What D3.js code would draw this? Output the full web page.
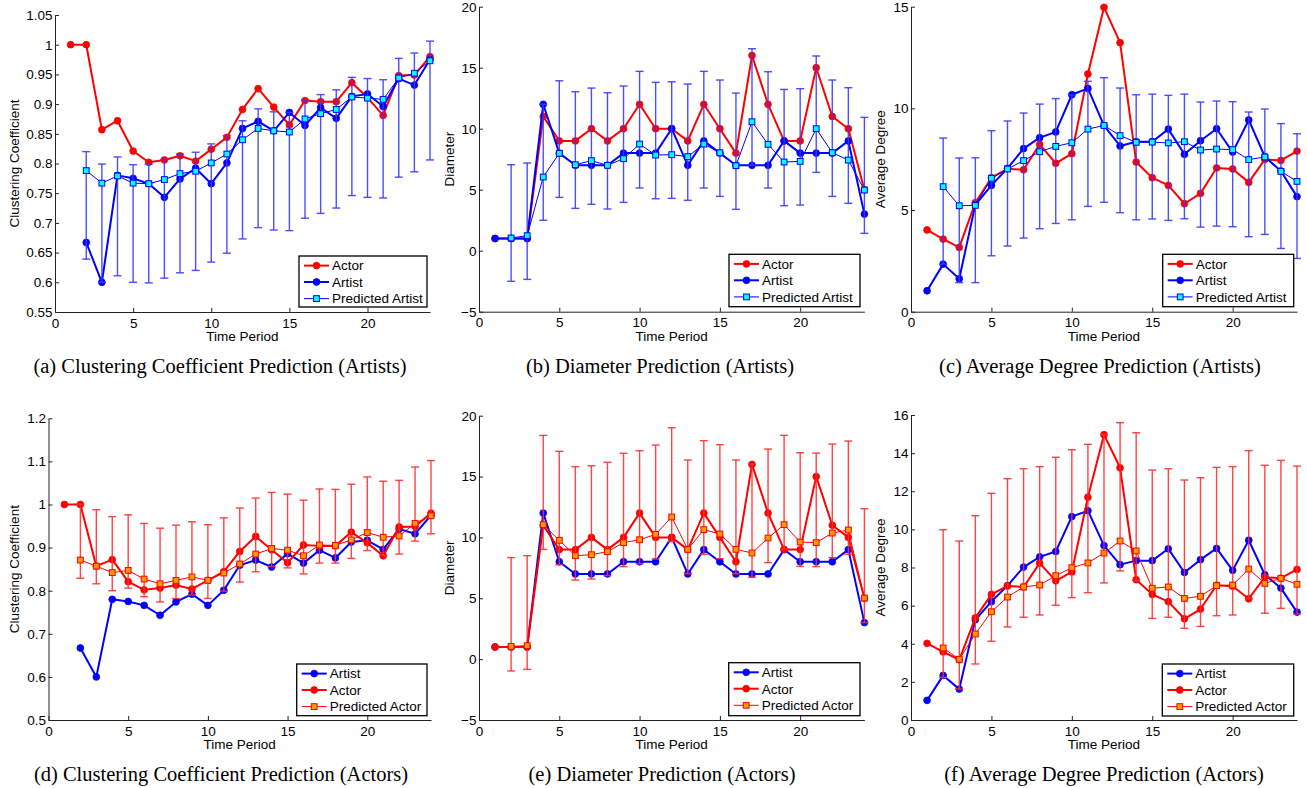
<!DOCTYPE html>
<html>
<head>
<meta charset="utf-8">
<script src="https://cdn.jsdelivr.net/npm/d3@7"></script>
<style>
  html, body { margin: 0; padding: 0; background: #fff; }
  svg { display: block; }
  .axis text { font-family: "Liberation Sans", Arial, Helvetica, sans-serif; font-size: 13.5px; fill: #000; }
  .axis path, .axis line { stroke: #222; stroke-width: 1; }
</style>
</head>
<body>
<svg id="chart" width="1307" height="788"></svg>
<script>
// ---------------- DATA ----------------
const periods = [1,2,3,4,5,6,7,8,9,10,11,12,13,14,15,16,17,18,19,20,21,22,23,24];
const xTicks = [0,5,10,15,20];
const xTickLabels = ["0","5","10","15","20"];

// Clustering coefficient
const ccActor  = [1.000,1.000,0.857,0.872,0.821,0.802,0.806,0.813,0.804,0.824,0.844,0.891,0.926,0.895,0.865,0.906,0.904,0.904,0.936,0.911,0.881,0.948,0.949,0.980];
const ccArtist = [null,0.667,0.600,0.780,0.775,0.766,0.743,0.774,0.792,0.766,0.801,0.859,0.871,0.855,0.886,0.864,0.894,0.876,0.913,0.917,0.896,0.943,0.932,0.975];
const ccPredArtist   = [null,0.788,0.767,0.779,0.767,0.766,0.773,0.783,0.787,0.801,0.816,0.840,0.859,0.855,0.853,0.875,0.884,0.891,0.912,0.910,0.908,0.944,0.952,0.973];
const ccPredArtistLo = [null,0.639,0.600,0.611,0.600,0.599,0.607,0.616,0.620,0.634,0.649,0.673,0.692,0.688,0.687,0.708,0.716,0.725,0.746,0.743,0.742,0.777,0.786,0.806];
const ccPredArtistHi = [null,0.820,0.799,0.811,0.798,0.799,0.807,0.816,0.819,0.833,0.847,0.872,0.892,0.887,0.886,0.907,0.916,0.924,0.945,0.943,0.941,0.977,0.986,1.006];
const ccPredActor    = [null,0.871,0.857,0.842,0.847,0.827,0.816,0.824,0.832,0.824,0.841,0.862,0.885,0.898,0.894,0.881,0.906,0.905,0.918,0.935,0.924,0.927,0.956,0.974];
const ccPredActorLo  = [null,0.829,0.816,0.800,0.806,0.786,0.774,0.782,0.790,0.782,0.799,0.820,0.844,0.856,0.853,0.839,0.864,0.864,0.875,0.893,0.882,0.885,0.915,0.932];
const ccPredActorHi  = [null,1.001,0.988,0.972,0.976,0.956,0.945,0.952,0.960,0.953,0.969,0.992,1.015,1.028,1.024,1.010,1.036,1.035,1.047,1.064,1.054,1.056,1.087,1.102];

// Diameter
const dmActor  = [1,1,1,11,9,9,10,9,10,12,10,10,9,12,10,8,16,12,9,9,15,11,10,5];
const dmArtist = [1,1,1,12,8,7,7,7,8,8,8,10,7,9,8,7,7,7,9,8,8,8,9,3];
const dmPredArtist   = [null,1.04,1.23,6.04,7.98,7.05,7.38,7.00,7.54,8.74,7.84,7.87,7.71,8.74,8.03,6.97,10.57,8.72,7.27,7.32,10.00,8.03,7.43,4.97];
const dmPredArtistLo = [null,-2.51,-2.35,2.49,4.37,3.47,3.80,3.42,3.96,5.14,4.26,4.29,4.13,5.14,4.45,3.39,6.99,5.14,3.69,3.74,6.42,4.45,3.88,1.42];
const dmPredArtistHi = [null,7.05,7.19,12.00,13.93,13.03,13.33,12.95,13.50,14.70,13.80,13.85,13.66,14.70,13.99,12.92,16.56,14.67,13.22,13.28,15.96,13.99,13.36,10.93];
const dmPredActor    = [null,1.05,1.11,11.05,9.76,8.50,8.58,8.83,9.57,9.81,10.25,11.68,9.02,10.64,10.28,9.02,8.72,9.95,11.05,9.62,9.57,10.36,10.61,5.02];
const dmPredActorLo  = [null,-0.97,-0.84,9.02,7.76,6.50,6.58,6.86,7.60,7.84,8.23,9.65,7.02,8.61,8.25,7.02,6.72,7.93,9.02,7.62,7.60,8.34,8.61,3.00];
const dmPredActorHi  = [null,8.34,8.50,18.38,17.07,15.81,15.89,16.17,16.91,17.12,17.59,19.01,16.36,17.95,17.62,16.36,16.03,17.26,18.38,16.96,16.93,17.67,17.92,12.36];

// Average degree
const adActor  = [4.02,3.57,3.16,5.36,6.59,7.03,6.98,8.23,7.30,7.77,11.69,14.97,13.23,7.36,6.59,6.21,5.31,5.82,7.07,7.02,6.36,7.49,7.44,7.90];
const adArtist = [1.03,2.34,1.62,5.26,6.21,7.05,8.02,8.56,8.84,10.67,10.98,9.15,8.15,8.36,8.36,8.98,7.74,8.41,9.00,7.85,9.43,7.62,6.92,5.66];
const adPredArtist   = [null,6.15,5.21,5.23,6.56,7.02,7.43,7.87,8.13,8.31,8.98,9.16,8.66,8.33,8.34,8.30,8.36,7.95,8.00,7.97,7.48,7.61,6.90,6.41];
const adPredArtistLo = [null,2.34,1.43,1.43,2.75,3.23,3.62,4.08,4.34,4.52,5.18,5.38,4.87,4.52,4.56,4.49,4.57,4.16,4.21,4.18,3.69,3.80,3.11,2.62];
const adPredArtistHi = [null,8.54,7.56,7.57,8.90,9.38,9.77,10.21,10.48,10.66,11.33,11.51,11.00,10.67,10.70,10.64,10.70,10.31,10.36,10.33,9.82,9.97,9.25,8.75];
const adPredActor    = [null,3.78,3.18,4.51,5.68,6.45,6.98,7.08,7.57,7.99,8.24,8.76,9.39,8.87,6.91,6.98,6.38,6.49,7.05,7.08,7.92,7.17,7.43,7.12];
const adPredActorLo  = [null,2.23,1.63,2.94,4.13,4.88,5.39,5.51,6.02,6.42,6.68,7.19,7.82,7.31,5.33,5.39,4.81,4.91,5.47,5.51,6.37,5.60,5.86,5.56];
const adPredActorHi  = [null,9.98,9.39,10.72,11.89,12.66,13.18,13.29,13.78,14.18,14.46,14.97,15.60,15.07,13.11,13.18,12.59,12.71,13.25,13.29,14.13,13.36,13.62,13.32];

// Y ticks
const ccTicksTop = [0.55,0.6,0.65,0.7,0.75,0.8,0.85,0.9,0.95,1,1.05];
const ccTickLabelsTop = ["0.55","0.6","0.65","0.7","0.75","0.8","0.85","0.9","0.95","1","1.05"];
const ccTicksBot = [0.5,0.6,0.7,0.8,0.9,1,1.1,1.2];
const ccTickLabelsBot = ["0.5","0.6","0.7","0.8","0.9","1","1.1","1.2"];
const dmTicks = [-5,0,5,10,15,20];
const dmTickLabels = ["\u22125","0","5","10","15","20"];
const adTicksTop = [0,5,10,15];
const adTickLabelsTop = ["0","5","10","15"];
const adTicksBot = [0,2,4,6,8,10,12,14,16];
const adTickLabelsBot = ["0","2","4","6","8","10","12","14","16"];

const captions = [
  "(a) Clustering Coefficient Prediction (Artists)",
  "(b) Diameter Prediction (Artists)",
  "(c) Average Degree Prediction (Artists)",
  "(d) Clustering Coefficient Prediction (Actors)",
  "(e) Diameter Prediction (Actors)",
  "(f) Average Degree Prediction (Actors)"
];

// ---------------- STYLES ----------------
const RED = "#ff0000", BLUE = "#0000ff";
const styleActor  = {name:"Actor",  color:RED,  width:2, marker:"circle", fill:RED};
const styleArtist = {name:"Artist", color:BLUE, width:2, marker:"circle", fill:BLUE};
const stylePredArtist = {name:"Predicted Artist", color:BLUE, width:1, marker:"square", fill:"#00ffff", err:"#3a3aff"};
const stylePredActor  = {name:"Predicted Actor",  color:RED,  width:1, marker:"square", fill:"#ff9900", err:"#ff3030"};

// ---------------- LAYOUT ----------------
const panels = [
  {x0:55, x1:430, yTop:15, yBot:312, yDom:[0.55,1.05], ticks:ccTicksTop, labels:ccTickLabelsTop, ylabel:"Clustering Coefficient", ylabX:18.5,
   series:[[ccActor,styleActor],[ccArtist,styleArtist]], pred:[ccPredArtist,ccPredArtistLo,ccPredArtistHi,stylePredArtist],
   legend:{x:299,y:256,w:128,h:51}, cap:{x:220,y:373}},
  {x0:479, x1:864.4, yTop:6.7, yBot:311.7, yDom:[-5,20], ticks:dmTicks, labels:dmTickLabels, ylabel:"Diameter", ylabX:454,
   series:[[dmActor,styleActor],[dmArtist,styleArtist]], pred:[dmPredArtist,dmPredArtistLo,dmPredArtistHi,stylePredArtist],
   legend:{x:729,y:254.3,w:131,h:52.4}, cap:{x:660,y:373}},
  {x0:911, x1:1297, yTop:6.7, yBot:311.7, yDom:[0,15], ticks:adTicksTop, labels:adTickLabelsTop, ylabel:"Average Degree", ylabX:885,
   series:[[adActor,styleActor],[adArtist,styleArtist]], pred:[adPredArtist,adPredArtistLo,adPredArtistHi,stylePredArtist],
   legend:{x:1162.7,y:254.3,w:131,h:52.4}, cap:{x:1100,y:373}},
  {x0:48.5, x1:431, yTop:418.3, yBot:720, yDom:[0.5,1.2], ticks:ccTicksBot, labels:ccTickLabelsBot, ylabel:"Clustering Coefficient", ylabX:18.5,
   series:[[ccArtist,styleArtist],[ccActor,styleActor]], pred:[ccPredActor,ccPredActorLo,ccPredActorHi,stylePredActor],
   legend:{x:296.7,y:664,w:130.3,h:51.7}, cap:{x:221,y:781}},
  {x0:479, x1:864.4, yTop:415.7, yBot:720, yDom:[-5,20], ticks:dmTicks, labels:dmTickLabels, ylabel:"Diameter", ylabX:454,
   series:[[dmArtist,styleArtist],[dmActor,styleActor]], pred:[dmPredActor,dmPredActorLo,dmPredActorHi,stylePredActor],
   legend:{x:728.7,y:662.7,w:131.3,h:53}, cap:{x:662,y:781}},
  {x0:911, x1:1297, yTop:415, yBot:720, yDom:[0,16], ticks:adTicksBot, labels:adTickLabelsBot, ylabel:"Average Degree", ylabX:885,
   series:[[adArtist,styleArtist],[adActor,styleActor]], pred:[adPredActor,adPredActorLo,adPredActorHi,stylePredActor],
   legend:{x:1162.3,y:664,w:131.4,h:52}, cap:{x:1104,y:781}}
];

const svg = d3.select("#chart");
const FONT = '"Liberation Sans", Arial, Helvetica, sans-serif';

function drawMarker(g, shape, cx, cy, st) {
  if (shape === "circle") {
    g.append("circle").attr("cx", cx).attr("cy", cy).attr("r", 3.4)
      .attr("fill", st.fill).attr("stroke", st.color).attr("stroke-width", 0.8);
  } else {
    const s = 5.8;
    g.append("rect").attr("x", cx - s/2).attr("y", cy - s/2).attr("width", s).attr("height", s)
      .attr("fill", st.fill).attr("stroke", st.color).attr("stroke-width", 1);
  }
}

panels.forEach((p, i) => {
  const x = d3.scaleLinear().domain([0, 24]).range([p.x0, p.x1]);
  const y = d3.scaleLinear().domain(p.yDom).range([p.yBot, p.yTop]);
  const g = svg.append("g");

  // axes
  g.append("g").attr("class", "axis").attr("transform", `translate(0,${p.yBot})`)
    .call(d3.axisBottom(x).tickValues(xTicks).tickFormat((d, k) => xTickLabels[k])
      .tickSizeInner(-4).tickSizeOuter(0).tickPadding(6));
  g.append("g").attr("class", "axis").attr("transform", `translate(${p.x0},0)`)
    .call(d3.axisLeft(y).tickValues(p.ticks).tickFormat((d, k) => p.labels[k])
      .tickSizeInner(-4).tickSizeOuter(0).tickPadding(2.5));

  // axis labels
  g.append("text").attr("x", (p.x0 + p.x1) / 2).attr("y", p.yBot + 29)
    .attr("text-anchor", "middle").attr("font-family", FONT).attr("font-size", "13.5px")
    .text("Time Period");
  g.append("text").attr("transform", `translate(${p.ylabX},${(p.yTop + p.yBot) / 2}) rotate(-90)`)
    .attr("text-anchor", "middle").attr("font-family", FONT).attr("font-size", "13.5px")
    .text(p.ylabel);

  const line = (arr) => d3.line().defined((d, k) => arr[k] != null)
    .x((d, k) => x(periods[k])).y((d, k) => y(arr[k]))(arr);

  // main series
  p.series.forEach(([arr, st]) => {
    g.append("path").attr("d", line(arr)).attr("fill", "none")
      .attr("stroke", st.color).attr("stroke-width", st.width).attr("stroke-linejoin", "round");
    const mg = g.append("g");
    arr.forEach((v, k) => { if (v != null) drawMarker(mg, "circle", x(periods[k]), y(v), st); });
  });

  // prediction with error bars
  const [mid, lo, hi, st] = p.pred;
  const eg = g.append("g").attr("stroke", st.err).attr("stroke-width", 1.4).attr("stroke-opacity", 0.9);
  mid.forEach((v, k) => {
    if (v == null) return;
    const cx = x(periods[k]);
    eg.append("line").attr("x1", cx).attr("x2", cx).attr("y1", y(lo[k])).attr("y2", y(hi[k]));
    eg.append("line").attr("x1", cx - 4).attr("x2", cx + 4).attr("y1", y(lo[k])).attr("y2", y(lo[k]));
    eg.append("line").attr("x1", cx - 4).attr("x2", cx + 4).attr("y1", y(hi[k])).attr("y2", y(hi[k]));
  });
  g.append("path").attr("d", line(mid)).attr("fill", "none")
    .attr("stroke", st.color).attr("stroke-width", st.width);
  const pm = g.append("g");
  mid.forEach((v, k) => { if (v != null) drawMarker(pm, "square", x(periods[k]), y(v), st); });

  // legend
  const L = p.legend;
  const lg = g.append("g");
  lg.append("rect").attr("x", L.x).attr("y", L.y).attr("width", L.w).attr("height", L.h)
    .attr("fill", "#fff").attr("stroke", "#000").attr("stroke-width", 1.3);
  const items = [p.series[0][1], p.series[1][1], st];
  const rowOff = [9.6, 26, 42.6];
  items.forEach((it, r) => {
    const cy = L.y + rowOff[r];
    lg.append("line").attr("x1", L.x + 5).attr("x2", L.x + 30).attr("y1", cy).attr("y2", cy)
      .attr("stroke", it.color).attr("stroke-width", it.width);
    drawMarker(lg, it.marker, L.x + 17.5, cy, it);
    lg.append("text").attr("x", L.x + 33).attr("y", cy).attr("dy", "0.36em")
      .attr("font-family", FONT).attr("font-size", "13.5px").text(it.name);
  });

  // caption
  svg.append("text").attr("x", p.cap.x).attr("y", p.cap.y).attr("text-anchor", "middle")
    .attr("font-family", '"Liberation Serif", "Times New Roman", serif').attr("font-size", "20.5px")
    .text(captions[i]);
});
</script>
</body>
</html>
